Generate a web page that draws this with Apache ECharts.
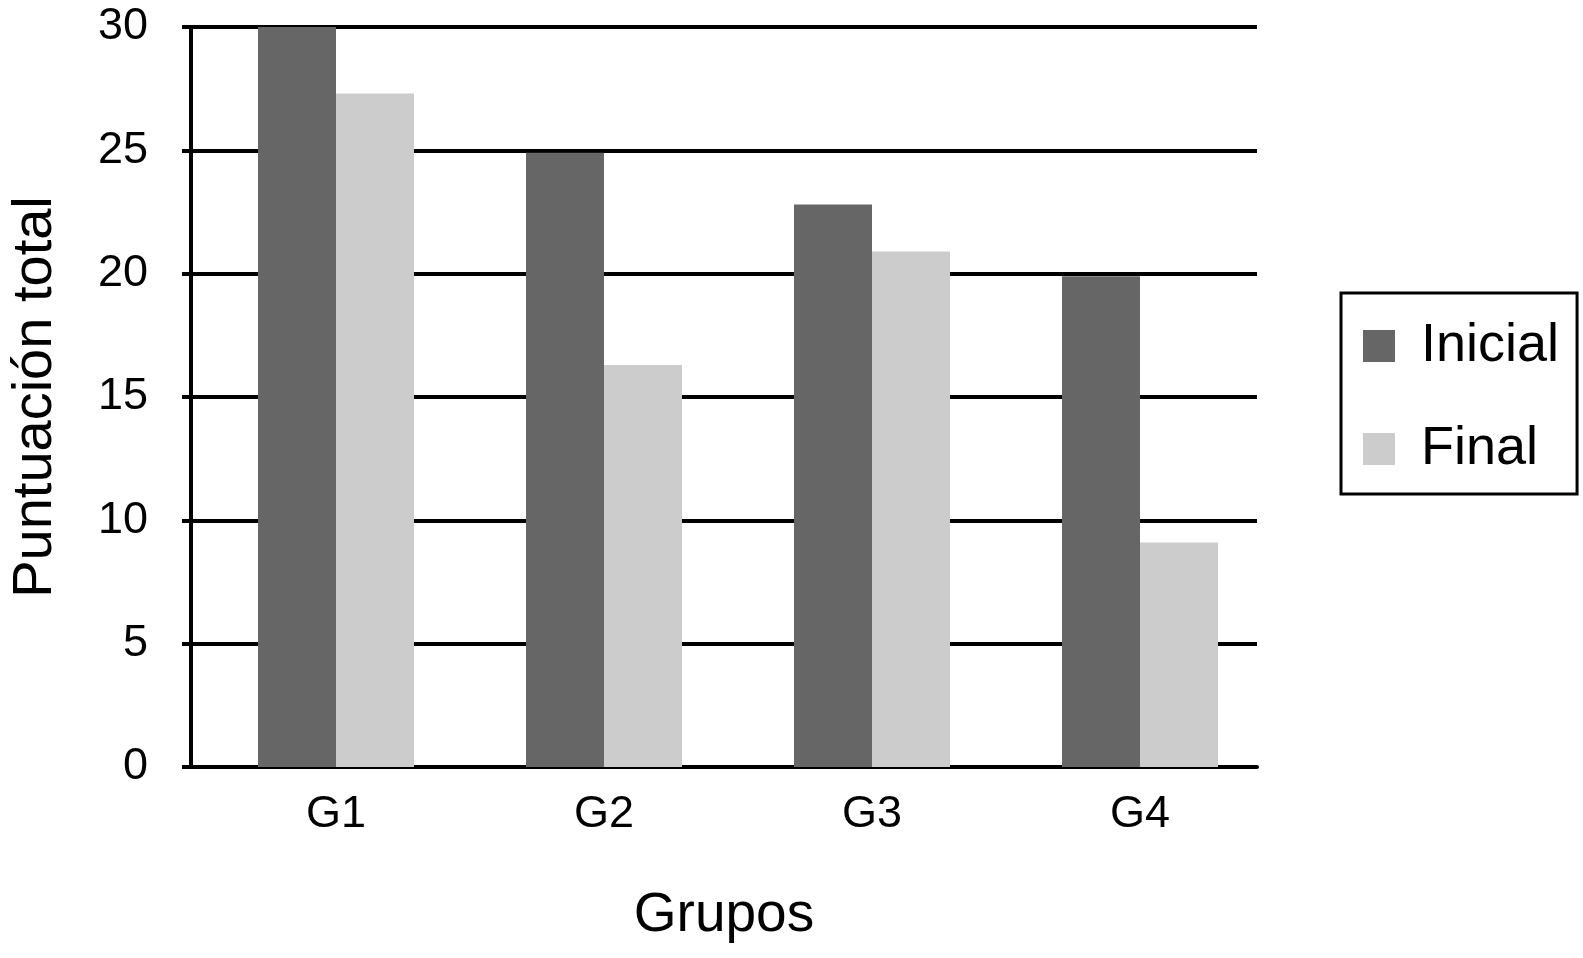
<!DOCTYPE html>
<html>
<head>
<meta charset="utf-8">
<script src="https://cdn.jsdelivr.net/npm/echarts@6/dist/echarts.min.js"></script>
<style>
  html, body { margin: 0; padding: 0; background: #fff; }
  #chart { width: 1583px; height: 958px; }
</style>
</head>
<body>
<div id="chart"></div>
<script>
    var groups = ['G1', 'G2', 'G3', 'G4']
    var inicial = [30, 24.9, 22.8, 19.9]
    var final = [27.3, 16.3, 20.9, 9.1]
    var font = 'Liberation Sans, Arial, Helvetica, sans-serif'

    var chart = echarts.init(document.getElementById('chart'))
    chart.setOption({
        animation: false,
        backgroundColor: '#fff',
        textStyle: { fontFamily: font, color: '#000' },
        legend: {
            orient: 'vertical',
            left: 1341,
            top: 293,
            width: 237,
            padding: [23, 18, 15, 22],
            borderColor: '#000',
            borderWidth: 3,
            itemWidth: 32,
            itemHeight: 32,
            itemGap: 43,
            icon: 'rect',
            data: ['Inicial', 'Final'],
            textStyle: { fontSize: 54, color: '#000', lineHeight: 60, padding: [0, 0, 0, 21], fontFamily: font }
        },
        grid: [
            { left: 185, right: 326, top: 27, bottom: 191 },
            { left: 202, right: 309, top: 27, bottom: 191 }
        ],
        xAxis: [
            {
                gridIndex: 0,
                type: 'category',
                data: groups,
                name: 'Grupos',
                nameLocation: 'middle',
                nameGap: 121,
                nameTextStyle: { fontSize: 55, color: '#000', fontFamily: font },
                axisLine: { lineStyle: { color: '#000', width: 4 } },
                axisTick: { show: false },
                axisLabel: { show: false }
            },
            {
                gridIndex: 1,
                type: 'category',
                data: groups,
                axisLine: { show: false },
                axisTick: { show: false },
                axisLabel: { fontSize: 45, color: '#000', margin: 25, fontFamily: font }
            }
        ],
        yAxis: [
            {
                gridIndex: 0,
                type: 'value',
                min: 0,
                max: 30,
                interval: 5,
                name: 'Puntuación total',
                nameLocation: 'middle',
                nameGap: 127,
                nameTextStyle: { fontSize: 56, color: '#000', fontFamily: font },
                axisLine: { show: true, lineStyle: { color: '#000', width: 4 } },
                axisTick: { show: true, length: 9, lineStyle: { color: '#000', width: 4 } },
                splitLine: { show: true, lineStyle: { color: '#000', width: 4 } },
                axisLabel: { fontSize: 45, color: '#000', margin: 43, fontFamily: font }
            },
            {
                gridIndex: 1,
                type: 'value',
                min: 0,
                max: 30,
                interval: 5,
                axisLine: { show: false },
                axisTick: { show: false },
                splitLine: { show: false },
                axisLabel: { show: false }
            }
        ],
        series: [
            {
                type: 'bar',
                name: 'Inicial',
                data: inicial,
                xAxisIndex: 1,
                yAxisIndex: 1,
                barWidth: 78,
                barGap: '0%',
                itemStyle: { color: '#666666' }
            },
            {
                type: 'bar',
                name: 'Final',
                data: final,
                xAxisIndex: 1,
                yAxisIndex: 1,
                barWidth: 78,
                barGap: '0%',
                itemStyle: { color: '#cccccc' }
            }
        ]
    })
</script>
</body>
</html>
